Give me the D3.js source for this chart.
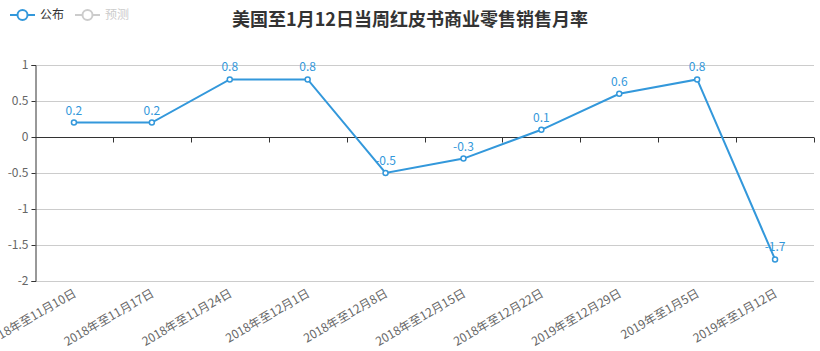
<!DOCTYPE html>
<html><head><meta charset="utf-8">
<script src="https://cdn.jsdelivr.net/npm/d3@7/dist/d3.min.js"></script>
<style>body{margin:0;background:#fff;font-family:"Microsoft YaHei","Noto Sans CJK SC",sans-serif;}</style>
</head><body><svg id="c" width="820" height="351"></svg>
<script>
const categories = ["2018年至11月10日","2018年至11月17日","2018年至11月24日","2018年至12月1日","2018年至12月8日","2018年至12月15日","2018年至12月22日","2019年至12月29日","2019年至1月5日","2019年至1月12日"];
const published = [0.2, 0.2, 0.8, 0.8, -0.5, -0.3, 0.1, 0.6, 0.8, -1.7];
const yTicks = [1, 0.5, 0, -0.5, -1, -1.5, -2];
const title = "美国至1月12日当周红皮书商业零售销售月率";
const legendNames = ["公布", "预测"];

const svg = d3.select("#c");
const font = '"Noto Sans CJK SC", sans-serif';
const m = {l: 35, r: 6, t: 65, b: 70};
const W = 820, H = 351;
const x = d3.scaleBand().domain(categories).range([m.l, W - m.r]);
const y = d3.scaleLinear().domain([-2, 1]).range([281, 65]);
const color = "#3398DB";

// grid
svg.append("g").selectAll("line").data(yTicks).join("line")
  .attr("x1", m.l).attr("x2", W - m.r)
  .attr("y1", d => Math.round(y(d)) + 0.5).attr("y2", d => Math.round(y(d)) + 0.5)
  .attr("stroke", "#ccc").attr("stroke-width", 1);

// y axis
const ya = svg.append("g").attr("transform", `translate(${m.l + 0.5},0)`)
  .call(d3.axisLeft(y).tickValues(yTicks).tickSize(4).tickFormat(d => d));
ya.select(".domain").attr("stroke", "#333");
ya.selectAll(".tick line").attr("stroke", "#333");
ya.selectAll(".tick text").attr("fill", "#666").style("font-size", "12px").style("font-family", font);

// zero axis with band boundary ticks
const xa = svg.append("g").attr("transform", `translate(0,${Math.round(y(0)) + 0.5})`);
xa.append("line").attr("x1", m.l).attr("x2", W - m.r).attr("stroke", "#333");
const bounds = categories.map(c => x(c)).concat([x.range()[1]]).slice(1);
xa.selectAll("line.t").data(bounds).join("line").attr("class", "t")
  .attr("x1", d => Math.round(d) + 0.5).attr("x2", d => Math.round(d) + 0.5)
  .attr("y1", 0).attr("y2", 5).attr("stroke", "#333");

// x labels
svg.append("g").selectAll("text").data(categories).join("text")
  .attr("transform", d => `translate(${x(d) + x.bandwidth() / 2 + 1},${y(-2) + 11}) rotate(-30)`)
  .attr("text-anchor", "end").attr("dy", "0.35em")
  .attr("fill", "#666").style("font-size", "12px").style("font-family", font)
  .text(d => d);

// line
const cx = (d, i) => x(categories[i]) + x.bandwidth() / 2;
svg.append("path").datum(published)
  .attr("d", d3.line().x(cx).y(d => y(d)))
  .attr("fill", "none").attr("stroke", color).attr("stroke-width", 2);
svg.append("g").selectAll("circle").data(published).join("circle")
  .attr("cx", cx).attr("cy", d => y(d)).attr("r", 2.5)
  .attr("fill", "#fff").attr("stroke", color).attr("stroke-width", 1.5);
svg.append("g").selectAll("text").data(published).join("text")
  .attr("x", cx).attr("y", d => y(d) - 8)
  .attr("text-anchor", "middle").attr("fill", color)
  .style("font-size", "12px").style("font-family", font)
  .text(d => d);

// title
svg.append("text").attr("x", 410).attr("y", 26).attr("text-anchor", "middle")
  .attr("fill", "#333").style("font-size", "18px").style("font-weight", "bold").style("font-family", font)
  .text(title);

// legend
const lg = svg.append("g");
const legendColors = [color, "#ccc"];
const textColors = ["#333", "#ccc"];
let lx = 10;
legendNames.forEach((n, i) => {
  const g = lg.append("g").attr("transform", `translate(${lx},15)`);
  g.append("line").attr("x1", 0).attr("x2", 25).attr("stroke", legendColors[i]).attr("stroke-width", 2);
  g.append("circle").attr("cx", 12.5).attr("r", 5).attr("fill", "#fff").attr("stroke", legendColors[i]).attr("stroke-width", 2);
  g.append("text").attr("x", 30).attr("dy", "0.35em").attr("fill", textColors[i])
    .style("font-size", "12px").style("font-family", font).text(n);
  lx += 65;
});
</script></body></html>
